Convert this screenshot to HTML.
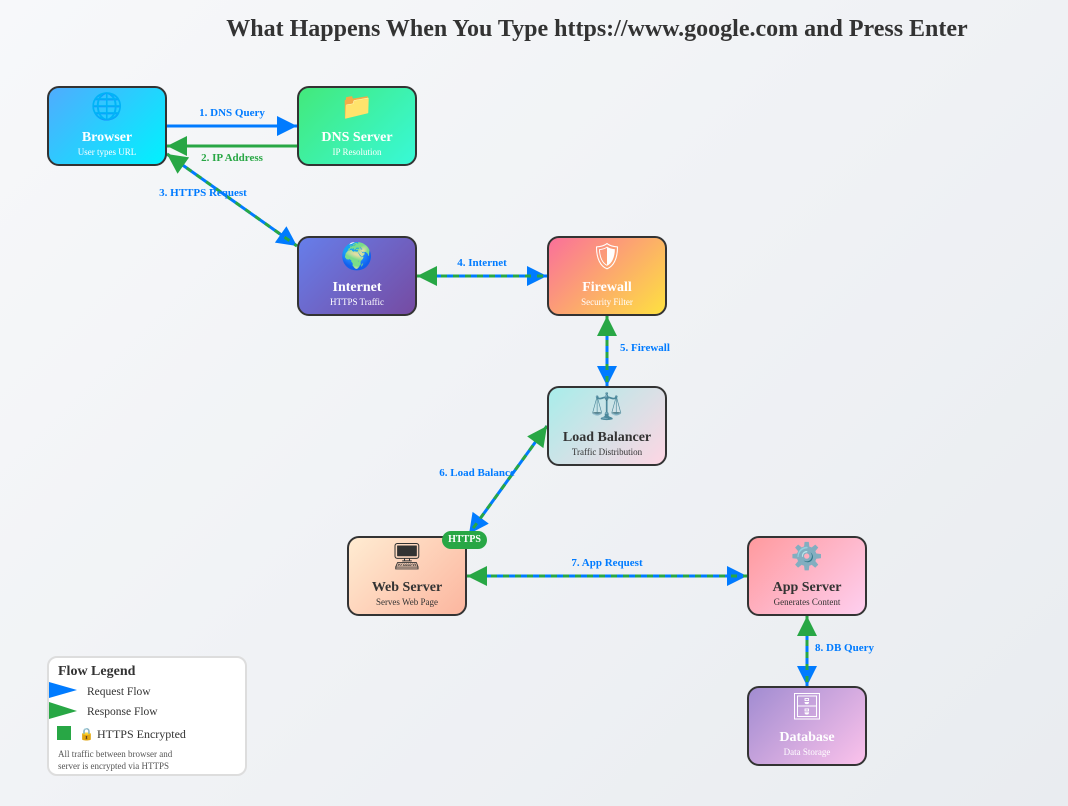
<!DOCTYPE html>
<html><head><meta charset="utf-8"><style>
body{margin:0;width:1068px;height:806px;overflow:hidden;background:linear-gradient(135deg,#f7f8fa,#e9ecf0);font-family:"Liberation Serif",serif;position:relative}
.title{position:absolute;top:16px;left:0;width:1194px;text-align:center;font-size:24px;font-weight:bold;color:#333}
.n{position:absolute;width:116px;height:76px;border:2px solid #333;border-radius:12px;text-align:center;color:#fff;box-sizing:content-box}
.n .i{font-size:26px;height:32px;line-height:34px;margin-top:2px}
.n .t{font-weight:bold;font-size:14px;margin-top:8px}
.n .s{font-size:9px;margin-top:1px}
.d{color:#333}
svg{position:absolute;left:0;top:0}
.lbl{font-family:"Liberation Serif",serif;font-weight:bold;font-size:11px}
.leg{position:absolute;left:47px;top:656px;width:200px;height:120px;background:#fff;border:2px solid #ddd;border-radius:10px;color:#333;box-sizing:border-box}
</style></head><body>
<div class="title">What Happens When You Type https://www.google.com and Press Enter</div>
<svg width="1068" height="806">
<defs>
<marker id="b" markerUnits="userSpaceOnUse" viewBox="0 0 10 10" refX="10" refY="5" markerWidth="28" markerHeight="20" orient="auto-start-reverse"><path d="M0,0L10,5L0,10z" fill="#007bff"/></marker>
<marker id="g" markerUnits="userSpaceOnUse" viewBox="0 0 10 10" refX="10" refY="5" markerWidth="28" markerHeight="20" orient="auto-start-reverse"><path d="M0,0L10,5L0,10z" fill="#28a745"/></marker>
</defs>
<line x1="167" y1="126" x2="297" y2="126" stroke="#007bff" stroke-width="3" marker-end="url(#b)"/>
<line x1="297" y1="146" x2="167" y2="146" stroke="#28a745" stroke-width="3" marker-end="url(#g)"/>
<g stroke-width="3">
<line x1="167" y1="154" x2="297" y2="246" stroke="#007bff" marker-start="url(#g)" marker-end="url(#b)"/>
<line x1="167" y1="154" x2="297" y2="246" stroke="#28a745" stroke-dasharray="6 6"/>
<line x1="417" y1="276" x2="547" y2="276" stroke="#007bff" marker-start="url(#g)" marker-end="url(#b)"/>
<line x1="417" y1="276" x2="547" y2="276" stroke="#28a745" stroke-dasharray="6 6"/>
<line x1="607" y1="316" x2="607" y2="386" stroke="#007bff" marker-start="url(#g)" marker-end="url(#b)"/>
<line x1="607" y1="316" x2="607" y2="386" stroke="#28a745" stroke-dasharray="6 6"/>
<line x1="547" y1="426" x2="469" y2="534" stroke="#007bff" marker-start="url(#g)" marker-end="url(#b)"/>
<line x1="547" y1="426" x2="469" y2="534" stroke="#28a745" stroke-dasharray="6 6"/>
<line x1="467" y1="576" x2="747" y2="576" stroke="#007bff" marker-start="url(#g)" marker-end="url(#b)"/>
<line x1="467" y1="576" x2="747" y2="576" stroke="#28a745" stroke-dasharray="6 6"/>
<line x1="807" y1="616" x2="807" y2="686" stroke="#007bff" marker-start="url(#g)" marker-end="url(#b)"/>
<line x1="807" y1="616" x2="807" y2="686" stroke="#28a745" stroke-dasharray="6 6"/>
</g>
<text class="lbl" x="232" y="116" text-anchor="middle" fill="#007bff">1. DNS Query</text>
<text class="lbl" x="232" y="161" text-anchor="middle" fill="#28a745">2. IP Address</text>
<text class="lbl" x="203" y="196" text-anchor="middle" fill="#007bff">3. HTTPS Request</text>
<text class="lbl" x="482" y="266" text-anchor="middle" fill="#007bff">4. Internet</text>
<text class="lbl" x="620" y="351" fill="#007bff">5. Firewall</text>
<text class="lbl" x="477" y="476" text-anchor="middle" fill="#007bff">6. Load Balance</text>
<text class="lbl" x="607" y="566" text-anchor="middle" fill="#007bff">7. App Request</text>
<text class="lbl" x="815" y="651" fill="#007bff">8. DB Query</text>
</svg>
<div class="n" style="left:47px;top:86px;background:linear-gradient(135deg,#4facfe,#00f2fe)"><div class="i">🌐</div><div class="t">Browser</div><div class="s">User types URL</div></div>
<div class="n" style="left:297px;top:86px;background:linear-gradient(135deg,#43e97b,#38f9d7)"><div class="i">📁</div><div class="t">DNS Server</div><div class="s">IP Resolution</div></div>
<div class="n" style="left:297px;top:236px;background:linear-gradient(135deg,#667eea,#764ba2)"><div class="i">🌍</div><div class="t">Internet</div><div class="s">HTTPS Traffic</div></div>
<div class="n" style="left:547px;top:236px;background:linear-gradient(135deg,#fa709a,#fee140)"><div class="i">🛡</div><div class="t">Firewall</div><div class="s">Security Filter</div></div>
<div class="n d" style="left:547px;top:386px;background:linear-gradient(135deg,#a8edea,#fed6e3)"><div class="i">⚖️</div><div class="t">Load Balancer</div><div class="s">Traffic Distribution</div></div>
<div class="n d" style="left:347px;top:536px;background:linear-gradient(135deg,#ffecd2,#fcb69f)"><div class="i">🖥</div><div class="t">Web Server</div><div class="s">Serves Web Page</div></div>
<div class="n d" style="left:747px;top:536px;background:linear-gradient(135deg,#ff9a9e,#fecfef)"><div class="i">⚙️</div><div class="t">App Server</div><div class="s">Generates Content</div></div>
<div class="n" style="left:747px;top:686px;background:linear-gradient(135deg,#a18cd1,#fbc2eb)"><div class="i">🗄</div><div class="t">Database</div><div class="s">Data Storage</div></div>
<div style="position:absolute;left:442px;top:531px;width:45px;height:18px;border-radius:9px;background:#28a745;color:#fff;font-size:10px;font-weight:bold;text-align:center;line-height:18px">HTTPS</div>
<div class="leg">
<div style="position:absolute;left:9px;top:6px;font-weight:bold;font-size:14px">Flow Legend</div>
<svg width="200" height="120" style="left:-2px;top:-2px"><path d="M2,26L30,34L2,42z" fill="#007bff"/><path d="M2,46L30,55L2,63z" fill="#28a745"/><rect x="10" y="70" width="14" height="14" fill="#28a745"/></svg>
<div style="position:absolute;left:38px;top:28px;font-size:11.5px">Request Flow</div>
<div style="position:absolute;left:38px;top:48px;font-size:11.5px">Response Flow</div>
<div style="position:absolute;left:30px;top:69px;font-size:12px">🔒 HTTPS Encrypted</div>
<div style="position:absolute;left:9px;top:90px;font-size:9px;line-height:12px;color:#555">All traffic between browser and<br>server is encrypted via HTTPS</div>
</div>
</body></html>
